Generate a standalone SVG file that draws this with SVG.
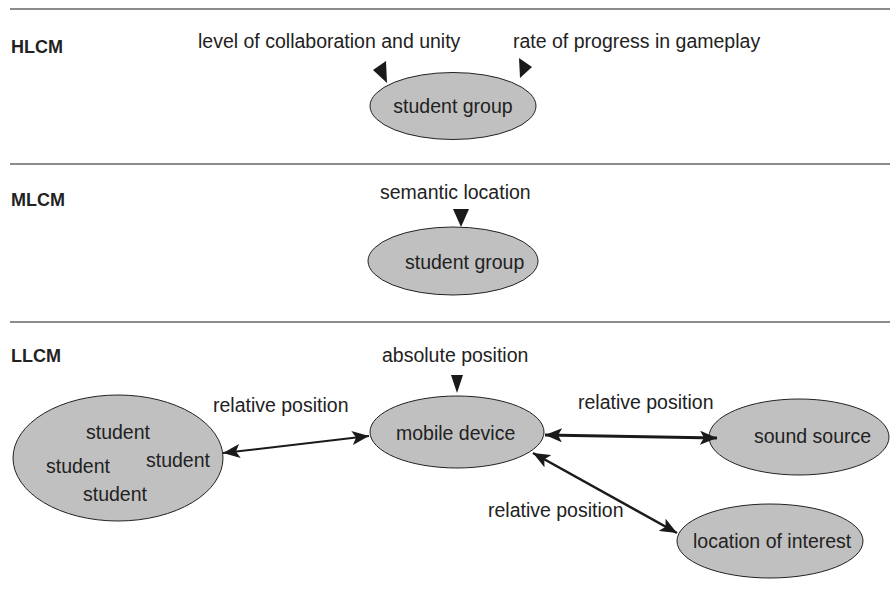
<svg xmlns="http://www.w3.org/2000/svg" width="890" height="594" viewBox="0 0 890 594">
<defs>
<style>
.t{font-family:"Liberation Sans",Arial,sans-serif;font-size:19.5px;fill:#222}
.h{font-family:"Liberation Sans",Arial,sans-serif;font-size:18px;font-weight:bold;fill:#222}
.n{fill:#c0c0c0;stroke:#222;stroke-width:1}
.sep{stroke:#666;stroke-width:1.5}
.c{stroke:#1a1a1a;fill:none}
.ah{fill:#1a1a1a}
</style>
<marker id="arr" markerUnits="userSpaceOnUse" viewBox="0 0 18 14" refX="17" refY="7" markerWidth="18" markerHeight="14" orient="auto-start-reverse">
<path d="M0,0 L17,7 L0,14 L4,7 z" fill="#1a1a1a"/>
</marker>
</defs>
<rect width="890" height="594" fill="#fff"/>
<g id="separators">
<line class="sep" x1="10" y1="9" x2="890" y2="9"/>
<line class="sep" x1="10" y1="164" x2="890" y2="164"/>
<line class="sep" x1="10" y1="322" x2="890" y2="322"/>
</g>
<g id="labels">
<text class="h" x="11" y="53">HLCM</text>
<text class="h" x="11" y="206">MLCM</text>
<text class="h" x="11" y="362">LLCM</text>
</g>
<g id="hl-group">
<ellipse class="n" cx="453" cy="106" rx="83" ry="33.5"/>
<text class="t" x="453" y="113" text-anchor="middle">student group</text>
</g>
<g id="ml-group">
<ellipse class="n" cx="453" cy="261" rx="85" ry="34"/>
<text class="t" x="405" y="269">student group</text>
</g>
<g id="students">
<ellipse class="n" cx="118" cy="458" rx="105" ry="63"/>
<text class="t" x="86" y="439">student</text>
<text class="t" x="46" y="473">student</text>
<text class="t" x="146" y="467">student</text>
<text class="t" x="83" y="501">student</text>
</g>
<g id="mobile-device">
<ellipse class="n" cx="457" cy="432" rx="87" ry="36"/>
<text class="t" x="396" y="440">mobile device</text>
</g>
<g id="sound-source">
<ellipse class="n" cx="799" cy="437" rx="90" ry="38"/>
<text class="t" x="754" y="443">sound source</text>
</g>
<g id="location-of-interest">
<ellipse class="n" cx="770" cy="541" rx="93" ry="37"/>
<text class="t" x="693" y="548">location of interest</text>
</g>
<g id="connectors">
<text class="t" x="198" y="48">level of collaboration and unity</text>
<polygon class="ah" points="386,61 387,83 373,70"/>
<text class="t" x="513" y="48">rate of progress in gameplay</text>
<polygon class="ah" points="519,58 532,67 520,78"/>
<text class="t" x="380" y="199">semantic location</text>
<polygon class="ah" points="453,209 469,209 461,227"/>
<text class="t" x="382" y="362">absolute position</text>
<polygon class="ah" points="451,375 463,375 457,393"/>
<text class="t" x="213" y="412">relative position</text>
<line class="c" stroke-width="2" x1="223" y1="453" x2="369" y2="436" marker-start="url(#arr)" marker-end="url(#arr)"/>
<text class="t" x="578" y="409">relative position</text>
<line class="c" stroke-width="3" x1="545" y1="435" x2="717" y2="438" marker-start="url(#arr)" marker-end="url(#arr)"/>
<text class="t" x="488" y="517">relative position</text>
<line class="c" stroke-width="2.5" x1="533" y1="453" x2="677" y2="533" marker-start="url(#arr)" marker-end="url(#arr)"/>
</g>
</svg>
